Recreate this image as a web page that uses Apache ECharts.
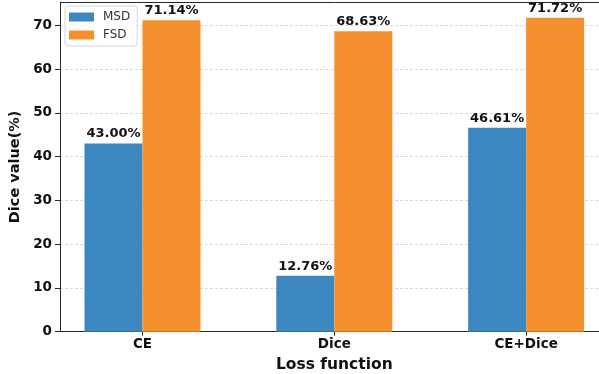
<!DOCTYPE html>
<html>
<head>
<meta charset="utf-8">
<script src="https://cdn.jsdelivr.net/npm/echarts@6/dist/echarts.min.js"></script>
<style>
  html, body { margin: 0; padding: 0; background: #fff; overflow: hidden; }
  /* the plot area runs a little past the right edge of the window */
  #chart { width: 609px; height: 374px; }
</style>
</head>
<body>
<div id="chart"></div>
<script>
// Loss functions compared, with Dice scores (%) for each structure
const categories = ['CE', 'Dice', 'CE+Dice'];
const msdValues = [43.00, 12.76, 46.61];
const fsdValues = [71.14, 68.63, 71.72];
const seriesNames = ['MSD', 'FSD'];
const yTicks = [0, 10, 20, 30, 40, 50, 60, 70];

const FONT = 'DejaVu Sans';
const blue = '#3c87bf';
const orange = '#f6902f';
const axisColor = '#2a2522';

// categories are placed at x = 0, 1, 2 on a numeric axis
const toPoints = vals => vals.map((v, i) => [i, v]);

const valueLabel = {
  show: true,
  position: 'top',
  distance: 3,
  fontFamily: FONT,
  fontWeight: 'bold',
  fontSize: 13,
  color: '#111',
  formatter: p => p.value[1].toFixed(2) + '%'
};

const chart = echarts.init(document.getElementById('chart'), null, { renderer: 'canvas' });
chart.setOption({
  animation: false,
  backgroundColor: '#fff',
  grid: { left: 60, top: 2, right: 0.4, bottom: 42.3, containLabel: false, outerBoundsMode: 'none' },
  legend: {
    orient: 'vertical',
    left: 65,
    top: 6,
    padding: [5, 7, 5, 4],
    itemWidth: 25,
    itemHeight: 9,
    itemGap: 6,
    borderColor: '#d6d6d6',
    borderWidth: 1,
    borderRadius: 3,
    backgroundColor: 'rgba(255,255,255,0.8)',
    icon: 'rect',
    textStyle: { fontFamily: FONT, fontSize: 12, color: '#333', padding: [0, 0, 0, 4] },
    data: seriesNames
  },
  xAxis: {
    type: 'value',
    min: -0.43,
    max: 2.43,
    name: 'Loss function',
    nameLocation: 'middle',
    nameGap: 21,
    nameTextStyle: { fontFamily: FONT, fontWeight: 'bold', fontSize: 15.5, color: '#111' },
    axisLine: { show: true, onZero: false, lineStyle: { color: axisColor, width: 1 } },
    axisTick: { show: true, length: 4, customValues: [0, 1, 2], lineStyle: { color: axisColor } },
    axisLabel: {
      customValues: [0, 1, 2],
      margin: 6,
      fontFamily: FONT, fontWeight: 'bold', fontSize: 13.5, color: '#111',
      formatter: v => categories[Math.round(v)] || ''
    },
    splitLine: { show: false }
  },
  yAxis: {
    type: 'value',
    min: 0,
    max: 75.306,
    interval: 10,
    name: 'Dice value(%)',
    nameLocation: 'middle',
    nameGap: 28,
    nameTextStyle: { fontFamily: FONT, fontWeight: 'bold', fontSize: 14.5, color: '#111' },
    axisLine: { show: true, onZero: false, lineStyle: { color: axisColor, width: 1 } },
    axisTick: { show: true, length: 5, lineStyle: { color: axisColor } },
    axisLabel: {
      margin: 8,
      fontFamily: FONT, fontWeight: 'bold', fontSize: 13.5, color: '#111',
      showMaxLabel: false,
      formatter: v => (yTicks.includes(v) ? String(v) : '')
    },
    splitLine: { show: true, lineStyle: { color: '#cfdbe6', type: [3, 2], width: 1 } }
  },
  series: [
    {
      name: seriesNames[0],
      type: 'bar',
      data: toPoints(msdValues),
      barWidth: 58,
      barGap: '0%',
      itemStyle: { color: blue },
      label: valueLabel
    },
    {
      name: seriesNames[1],
      type: 'bar',
      data: toPoints(fsdValues),
      barWidth: 58,
      barGap: '0%',
      itemStyle: { color: orange },
      label: valueLabel
    }
  ],
  graphic: [
    {
      // top frame edge of the plot area
      type: 'line',
      shape: { x1: 60, y1: 2.5, x2: 609, y2: 2.5 },
      style: { stroke: axisColor, lineWidth: 1 },
      z: 10,
      silent: true
    }
  ]
});
</script>
</body>
</html>
